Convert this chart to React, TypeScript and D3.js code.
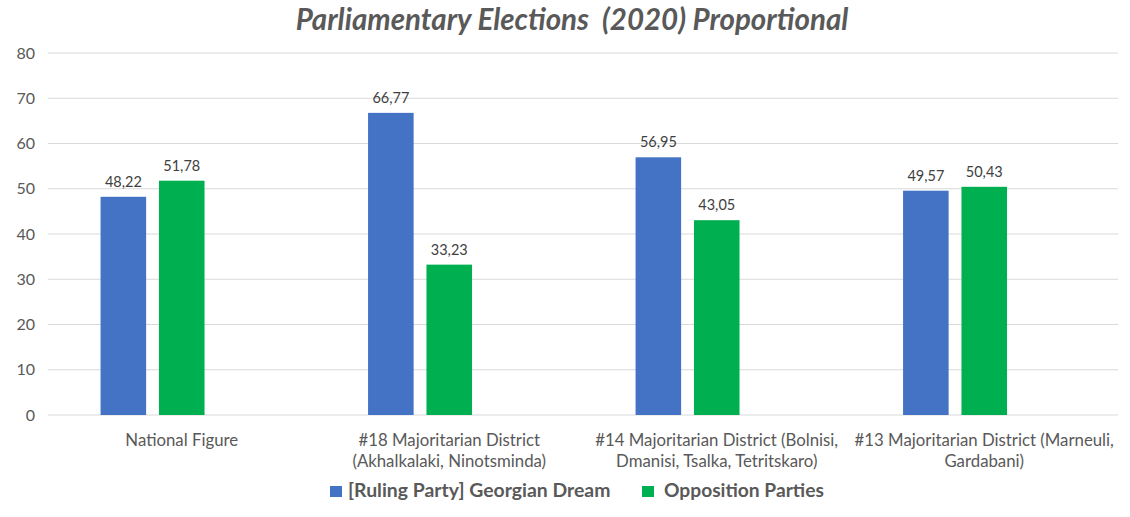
import * as d3 from 'd3'

const categories = [
  ['National Figure'],
  ['#18 Majoritarian District', '(Akhalkalaki, Ninotsminda)'],
  ['#14 Majoritarian District (Bolnisi,', 'Dmanisi, Tsalka, Tetritskaro)'],
  ['#13 Majoritarian District (Marneuli,', 'Gardabani)'],
]
const rulingParty = [48.22, 66.77, 56.95, 49.57]
const opposition = [51.78, 33.23, 43.05, 50.43]
const seriesNames = ['[Ruling Party] Georgian Dream', 'Opposition Parties']
const seriesColors = ['#4472C4', '#00B050']
// the source chart keeps an empty third slot in every group
const slots = ['ruling', 'opposition', 'empty']
const yTicks = [0, 10, 20, 30, 40, 50, 60, 70, 80]

const W = 1130
const H = 517
const margin = { top: 53, right: 12, bottom: 102, left: 48 }
const font = 'Lato, Carlito, "Open Sans", sans-serif'
const gray = '#595959'

export default function App() {
  const x0 = d3.scaleBand()
    .domain(categories.map((_, i) => String(i)))
    .range([margin.left, W - margin.right])
  const x1 = d3.scaleBand()
    .domain(slots)
    .range([0, x0.bandwidth()])
    .paddingInner(0.22)
    .paddingOuter(0.9)
  const y = d3.scaleLinear().domain([0, 80]).range([H - margin.bottom, margin.top])

  const series = [rulingParty, opposition]
  const fmt = (v: number) => v.toFixed(2).replace('.', ',')

  return (
    <svg width={W} height={H} style={{ position: 'absolute', left: 0, top: 0, fontFamily: font }}>
      <rect width={W} height={H} fill="#fff" />
      <text x={W / 2 + 7} y={29.6} textAnchor="middle" fontSize={29.5} fontWeight="bold" fontStyle="italic" fill={gray}
        style={{ whiteSpace: 'pre' }}>
        Parliamentary Elections  (2020) Proportional
      </text>
      {yTicks.map(t => (
        <g key={t}>
          <line x1={margin.left} x2={W - margin.right} y1={y(t)} y2={y(t)} stroke="#d9d9d9" strokeWidth={1} />
          <text x={35} y={y(t) + 5.5} textAnchor="end" fontSize={16} fill={gray}>{t}</text>
        </g>
      ))}
      {categories.map((lines, i) => {
        const gx = x0(String(i))!
        return (
          <g key={i}>
            {series.map((vals, s) => {
              const bx = gx + x1(slots[s])!
              return (
                <g key={s}>
                  <rect x={bx} y={y(vals[i])} width={x1.bandwidth()} height={y(0) - y(vals[i])} fill={seriesColors[s]} />
                  <text x={bx + x1.bandwidth() / 2} y={y(vals[i]) - 10} textAnchor="middle" fontSize={14.5} fill="#404040">
                    {fmt(vals[i])}
                  </text>
                </g>
              )
            })}
            {lines.map((l, k) => (
              <text key={k} x={gx + x0.bandwidth() / 2} y={446 + k * 21} textAnchor="middle" fontSize={16.8} fill={gray}>{l}</text>
            ))}
          </g>
        )
      })}
      <g>
        <rect x={330} y={486} width={12} height={11} fill={seriesColors[0]} />
        <text x={348} y={497} fontSize={19.4} fontWeight="bold" fill={gray}>{seriesNames[0]}</text>
        <rect x={642} y={486} width={12} height={11} fill={seriesColors[1]} />
        <text x={664} y={497} fontSize={19.2} fontWeight="bold" fill={gray}>{seriesNames[1]}</text>
      </g>
    </svg>
  )
}
